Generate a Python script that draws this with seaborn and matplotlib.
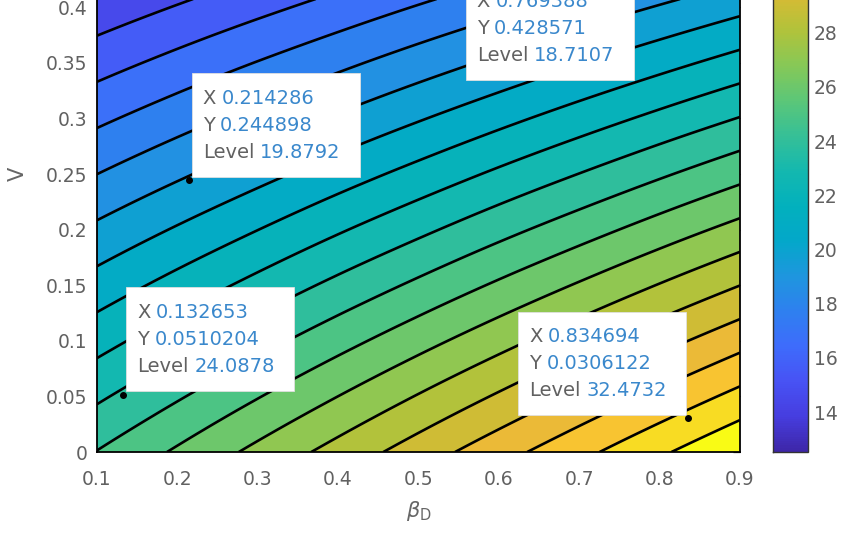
import numpy as np
import matplotlib
matplotlib.use("Agg")
import matplotlib.pyplot as plt
import matplotlib.tri as mtri
import seaborn as sns
from matplotlib.colors import LinearSegmentedColormap, Normalize
from matplotlib.cm import ScalarMappable
from matplotlib.offsetbox import (TextArea, HPacker, VPacker, DrawingArea,
                                  AnnotationBbox)

# ---- data -------------------------------------------------------------
beta_d = [0.1, 0.2, 0.3, 0.4, 0.5, 0.6, 0.7, 0.8, 0.9]
v = [0.0, 0.1, 0.2, 0.3, 0.4, 0.5]
# level value on the (v, beta_d) grid, one row per v
level_grid = [
    [25.01, 26.16, 27.32, 28.47, 29.63, 30.79, 31.94, 33.10, 34.25],
    [22.51, 23.55, 24.59, 25.63, 26.67, 27.71, 28.75, 29.79, 30.83],
    [20.00, 20.93, 21.85, 22.78, 23.70, 24.63, 25.55, 26.48, 27.40],
    [17.50, 18.31, 19.12, 19.93, 20.74, 21.55, 22.36, 23.17, 23.98],
    [15.00, 15.70, 16.39, 17.08, 17.78, 18.47, 19.17, 19.86, 20.55],
    [12.50, 13.08, 13.66, 14.24, 14.82, 15.39, 15.97, 16.55, 17.13],
]
# contour lines: evenly spaced between the lowest and highest drawn level
lowest_level = 12.53
highest_level = 33.27
n_lines = 21

x_ticks = [0.1, 0.2, 0.3, 0.4, 0.5, 0.6, 0.7, 0.8, 0.9]
y_ticks = [0, 0.05, 0.1, 0.15, 0.2, 0.25, 0.3, 0.35, 0.4, 0.45, 0.5]
cbar_ticks = [14, 16, 18, 20, 22, 24, 26, 28, 30, 32]

# data tips
tip_x = [0.214286, 0.769388, 0.132653, 0.834694]
tip_y = [0.244898, 0.428571, 0.0510204, 0.0306122]
tip_x_text = ["0.214286", "0.769388", "0.132653", "0.834694"]
tip_y_text = ["0.244898", "0.428571", "0.0510204", "0.0306122"]
tip_level_text = ["19.8792", "18.7107", "24.0878", "32.4732"]

# ---- style ------------------------------------------------------------
sns.set_theme(style="white")
plt.rcParams.update({
    "font.family": ["DejaVu Sans"],
    "font.size": 13,
    "axes.edgecolor": "black",
    "axes.linewidth": 1.3,
    "xtick.color": "0.2",
    "ytick.color": "0.2",
    "xtick.labelcolor": "0.38",
    "ytick.labelcolor": "0.38",
    "xtick.direction": "in",
    "ytick.direction": "in",
    "xtick.major.size": 5,
    "ytick.major.size": 5,
    "xtick.major.width": 0.9,
    "ytick.major.width": 0.9,
    "xtick.labelsize": 13.5,
    "ytick.labelsize": 13.5,
})

parula_anchors = [
    (0.2422, 0.1504, 0.6603), (0.2758, 0.2420, 0.8776), (0.2810, 0.3228, 0.9579),
    (0.2420, 0.4230, 0.9866), (0.1802, 0.5021, 0.9376), (0.1187, 0.5883, 0.8711),
    (0.0133, 0.6573, 0.7904), (0.0089, 0.6920, 0.7411), (0.0786, 0.7223, 0.6869),
    (0.2110, 0.7514, 0.5906), (0.3563, 0.7784, 0.4719), (0.5253, 0.7861, 0.3424),
    (0.6918, 0.7640, 0.2321), (0.8424, 0.7307, 0.2031), (0.9702, 0.7291, 0.2205),
    (0.9733, 0.8235, 0.1571), (0.9769, 0.9839, 0.0805),
]
parula = LinearSegmentedColormap.from_list("parula", parula_anchors, N=256)

Z = np.array(level_grid)
X, Y = np.meshgrid(beta_d, v)
line_levels = np.linspace(lowest_level, highest_level, n_lines)
fill_levels = np.concatenate([[Z.min() - 1.0], line_levels, [Z.max() + 1.0]])
norm = Normalize(vmin=lowest_level, vmax=highest_level)

# triangulated grid, refined by matplotlib for smooth contour curves
ny, nx = Z.shape
tris = []
for j in range(ny - 1):
    for i in range(nx - 1):
        a = j * nx + i
        tris.append([a, a + 1, a + nx + 1])
        tris.append([a, a + nx + 1, a + nx])
triang = mtri.Triangulation(X.ravel(), Y.ravel(), np.array(tris))
refiner = mtri.UniformTriRefiner(triang)
tri_fine, z_fine = refiner.refine_field(Z.ravel(), subdiv=3)

W, H = 844, 540
fig = plt.figure(figsize=(W / 100, H / 100), dpi=100)
fig.patch.set_facecolor("white")

ax = fig.add_axes([97 / W, (H - 452) / H, (740 - 97) / W, (452 + 104) / H])

# each band takes the colour of its lower level
band_colors = [parula(norm(lv)) for lv in fill_levels[:-1]]
ax.tricontourf(tri_fine, z_fine, levels=fill_levels, colors=band_colors)
ax.tricontour(tri_fine, z_fine, levels=line_levels, colors="black",
              linewidths=1.9)

ax.set_xlim(min(beta_d), max(beta_d))
ax.set_ylim(min(v), max(v))
ax.set_xticks(x_ticks)
ax.set_xticklabels([f"{t:g}" for t in x_ticks])
ax.set_yticks(y_ticks)
ax.set_yticklabels([f"{t:g}" for t in y_ticks])
ax.tick_params(top=True, right=True, labeltop=False, labelright=False, pad=7)
ax.tick_params(axis="x", pad=13)
for s in ax.spines.values():
    s.set_visible(True)
    s.set_color("black")

ax.set_xlabel(r"$\beta_{\mathrm{D}}$", fontsize=15, color="0.4", labelpad=7)
ax.set_ylabel("V", fontsize=15, color="0.4", labelpad=13)

# data tips
label_color = "0.38"
value_color = "#3a88cc"
anchors = [(0, 0), (1, 1), (0, 0), (1, 0)]
offsets = [(2, 2), (-1, -1), (2, 3), (-1, 2)]
for xv, yv, xs, ys, lv, anc, off in zip(tip_x, tip_y, tip_x_text, tip_y_text,
                                         tip_level_text, anchors, offsets):
    rows = []
    for lab, val in (("X", xs), ("Y", ys), ("Level", lv)):
        rows.append(HPacker(children=[
            TextArea(lab, textprops=dict(color=label_color, size=14)),
            TextArea(val, textprops=dict(color=value_color, size=14))],
            sep=4, align="baseline", pad=0))
    inner = VPacker(children=rows, sep=5.8, pad=0, align="left")
    middle = HPacker(children=[inner, DrawingArea(6, 1)], sep=0, pad=0,
                     align="center")
    box = VPacker(children=[DrawingArea(1, 3), middle, DrawingArea(1, 3)],
                  sep=0, pad=8, align="left")
    ab = AnnotationBbox(box, (xv, yv), xybox=off, boxcoords="offset points",
                        box_alignment=anc, frameon=True, pad=0,
                        annotation_clip=False,
                        bboxprops=dict(facecolor="white", edgecolor="0.88",
                                       lw=0.6, boxstyle="square,pad=0"))
    ab.set_zorder(5)
    ax.add_artist(ab)
    ax.plot([xv], [yv], "o", ms=4, color="black", zorder=6, clip_on=False)

# colour bar
px_per_unit = 27.1
cax = fig.add_axes([773 / W, (H - 452) / H, (808 - 773) / W,
                    (highest_level - lowest_level) * px_per_unit / H])
sm = ScalarMappable(norm=norm, cmap=parula)
cb = fig.colorbar(sm, cax=cax, ticks=cbar_ticks)
cb.outline.set_edgecolor("0.2")
cb.outline.set_linewidth(1.0)
cax.tick_params(direction="in", length=5, width=0.9, color="0.15",
                labelsize=13.5, labelcolor="0.38", pad=4)

fig.savefig("out.png", dpi=100, facecolor="white")
